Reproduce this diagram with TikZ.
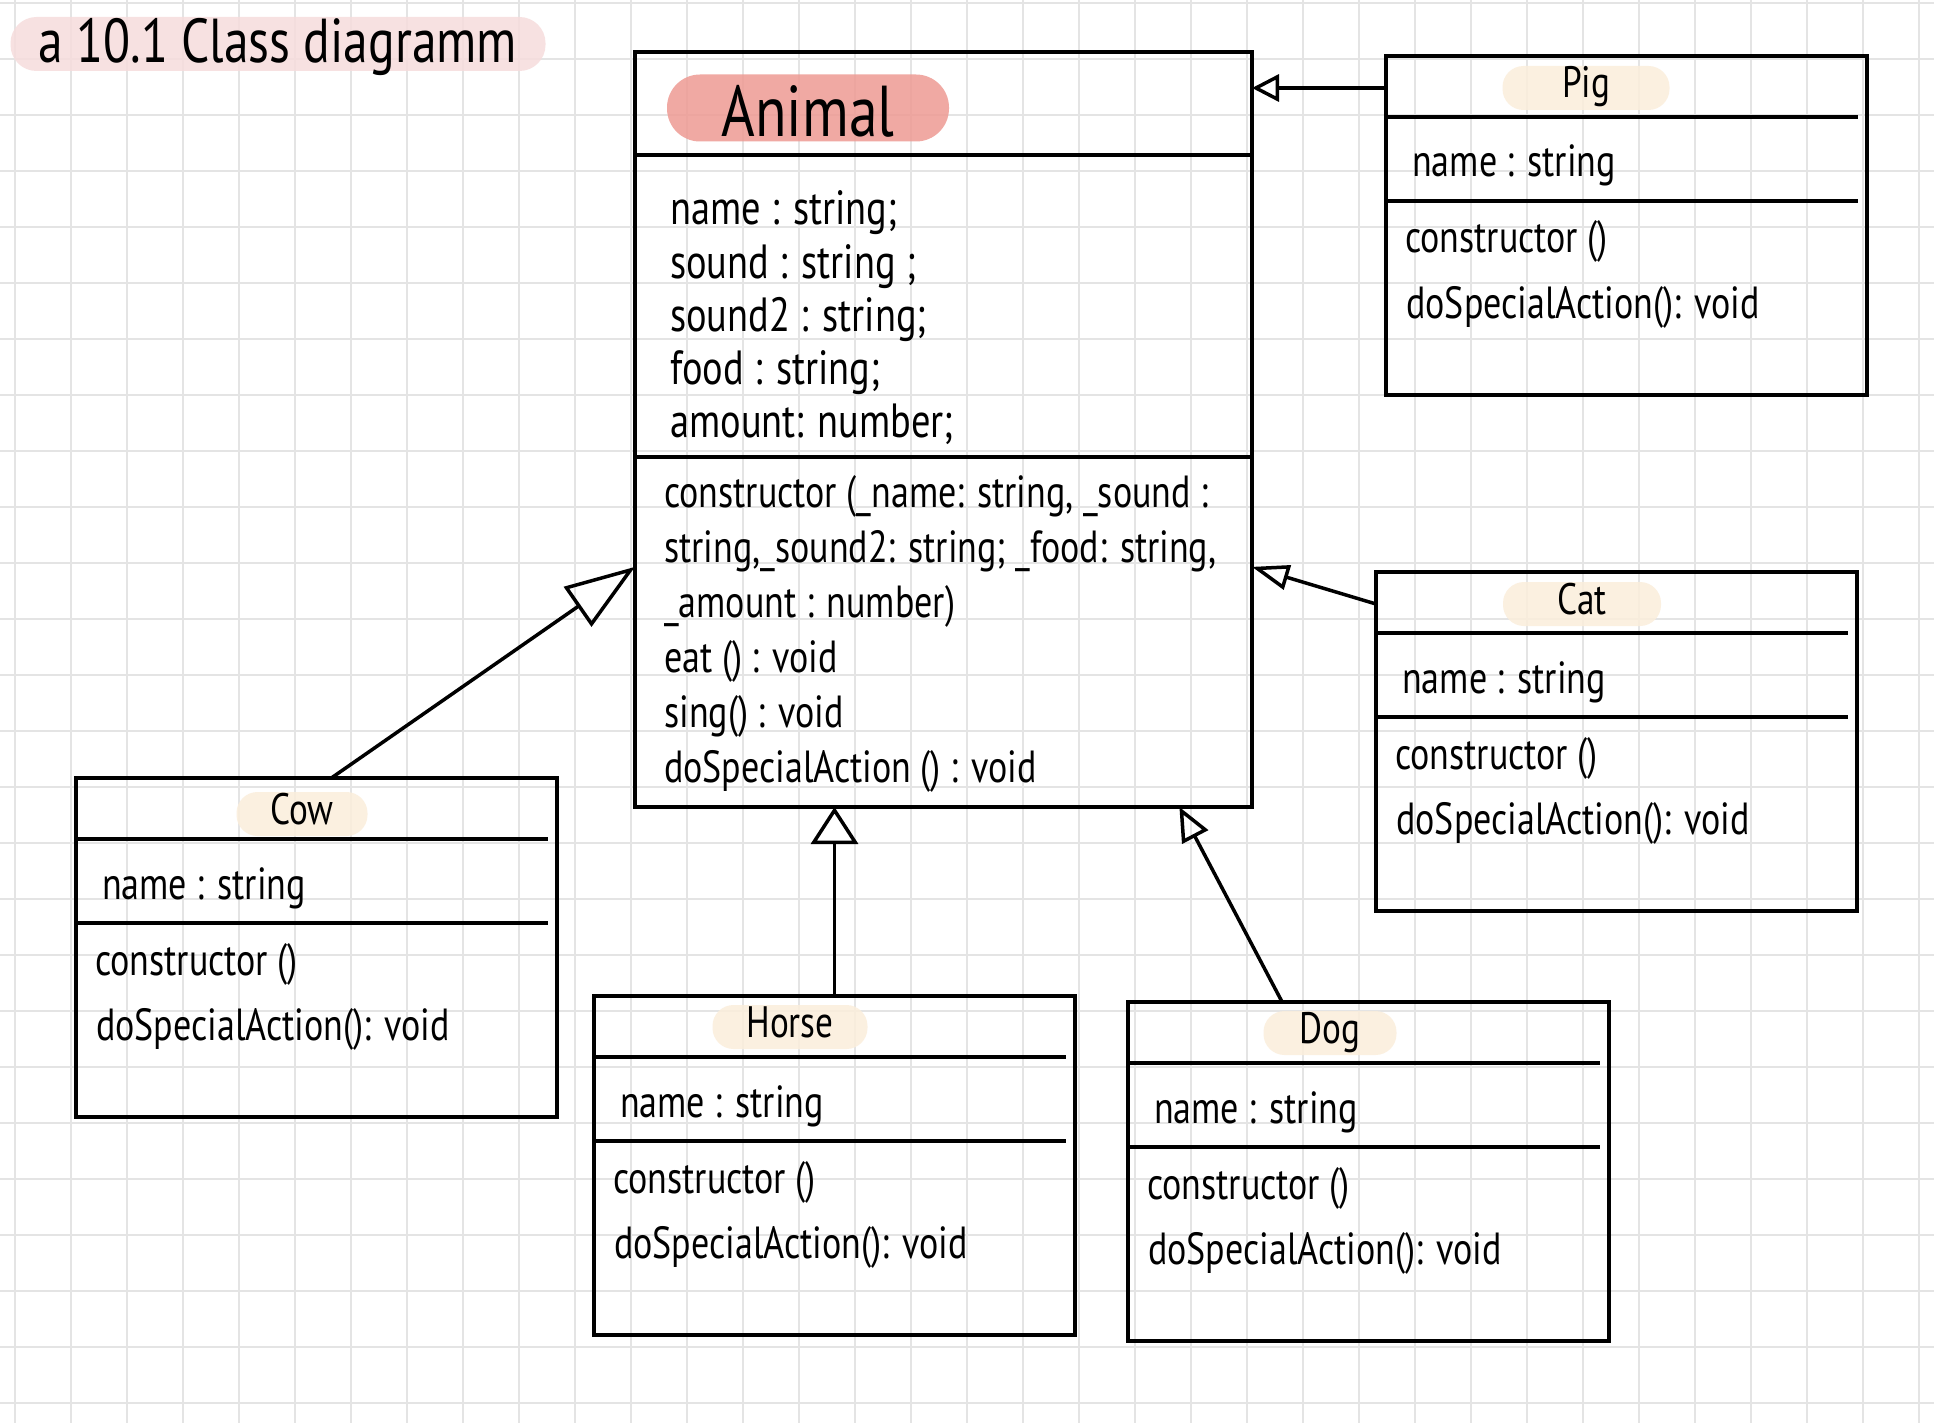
\documentclass[tikz,border=0pt]{standalone}
\usepackage{fontspec}
\newfontfamily\hand[FakeStretch=0.8]{PT Sans}
\usepackage{xcolor}
\usetikzlibrary{positioning,arrows.meta,calc}
\definecolor{gridgray}{HTML}{E4E4E4}
\definecolor{salmon}{HTML}{EE9A93}
\definecolor{blush}{HTML}{F6DCDC}
\definecolor{peach}{HTML}{FBEEDB}

\begin{document}
\begin{tikzpicture}[
  x=1pt, y=-1pt,
  paper/.style={draw=gridgray, line width=2pt},
  classbox/.style={draw, line width=4pt, outer sep=0pt, inner sep=0pt, anchor=north west,
    minimum width=481pt, minimum height=339pt},
  pill/.style={fill=peach, fill opacity=0.85, text opacity=1, rounded corners=21pt,
    minimum height=44pt, inner sep=0pt, text height=30pt, text depth=10pt,
    font=\hand\fontsize{44}{44}\selectfont},
  member/.style={anchor=base west, inner sep=0pt, font=\hand\fontsize{45}{54}\selectfont},
  sep/.style={line width=3.5pt},
  gen/.style 2 args={line width=3.5pt, -{Triangle[open, length=#1pt, width=#2pt]}}
]
\fill[white] (0,0) rectangle (1934,1423);
\useasboundingbox (0,0) rectangle (1934,1423);
% squared paper
\foreach \i in {0,...,34} \draw[paper] ({15+56*\i},0) -- ({15+56*\i},1423);
\foreach \j in {0,...,25} \draw[paper] (0,{3+56*\j}) -- (1934,{3+56*\j});

\node[pill, fill=blush, minimum width=535pt, minimum height=54pt, rounded corners=26pt,
  text height=38pt, text depth=0pt, font=\hand\fontsize{62}{62}\selectfont] (title) at (278,44) {a 10.1 Class diagramm};

% base class
\node[classbox, minimum width=617pt, minimum height=755pt] (animal) at (635,52) {};
\node[pill, fill=salmon, minimum width=282pt, minimum height=67pt, rounded corners=33pt,
  text height=58pt, text depth=0pt, font=\hand\fontsize{72}{72}\selectfont] (nameanimal) at ($(animal.north west)+(173,56)$) {Animal};
\draw[sep] ($(animal.north west)+(0,103)$) -- ($(animal.north east)+(0,103)$);
\draw[sep] ($(animal.north west)+(0,405)$) -- ($(animal.north east)+(0,405)$);
\foreach \t [count=\i from 0] in {name : string;, sound : string ;, sound2 : string;, food : string;, amount: number;}
  \node[member, font=\hand\fontsize{48}{54}\selectfont] (attranimal\i) at ($(animal.north west)+(35,{173+53*\i})$) {\t};
\foreach \t [count=\i from 0] in {{constructor (\_name: string, \_sound :}, {string,\_sound2: string; \_food: string,},
  \_amount : number), eat () : void, sing() : void, doSpecialAction () : void}
  \node[member] (opanimal\i) at ($(animal.north west)+(29,{455+55*\i})$) {\t};

% subclasses
\foreach \n/\lbl/\x/\y/\px/\py/\pw in {pig/Pig/1386/56/200/32/167, cat/Cat/1376/572/206/32/158,
  cow/Cow/76/778/226/36/131, horse/Horse/594/996/196/31/155, dog/Dog/1128/1002/202/31/133}{
  \node[classbox] (\n) at (\x,\y) {};
  \node[pill, minimum width=\pw pt] (name\n) at ($(\n.north west)+(\px,\py)$) {\lbl};
  \draw[sep] ($(\n.north west)+(-2,61)$) -- ($(\n.north east)+(-9,61)$);
  \draw[sep] ($(\n.north west)+(-2,145)$) -- ($(\n.north east)+(-9,145)$);
  \node[member] (attr\n) at ($(\n.north west)+(26,121)$) {name : string};
  \node[member] (ctor\n) at ($(\n.north west)+(19,197)$) {constructor ()};
  \node[member] (op\n) at ($(\n.north west)+(20,262)$) {doSpecialAction(): void};
}

% inheritance
\draw[gen={27}{27}] (pig.west |- namepig) -- (animal.east |- namepig);
\draw[gen={37}{25}] (cat.west |- namecat) -- (animal.-24);
\draw[gen={70}{48}] (cow.85) -- (animal.204);
\draw[gen={37}{47}] (horse.north) -- (animal.south -| horse.north);
\draw[gen={34}{29}] (dog.117) -- (animal.-58.7);
\end{tikzpicture}
\end{document}
